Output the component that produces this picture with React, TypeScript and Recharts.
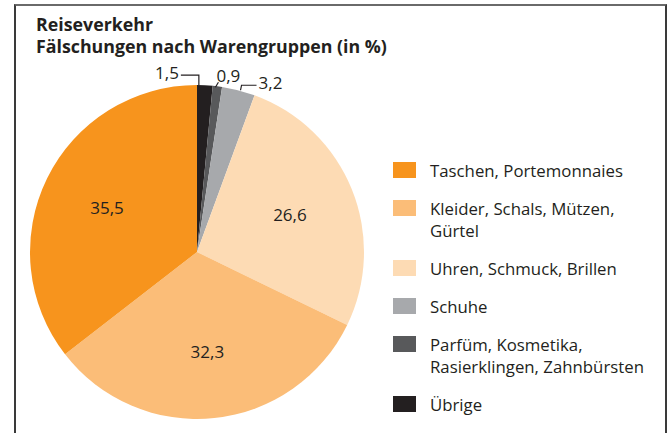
import React from 'react';
import { PieChart, Pie, Cell } from 'recharts';

// Data (clockwise from 12 o'clock)
const categories = [
  'Übrige',
  'Parfüm, Kosmetika, Rasierklingen, Zahnbürsten',
  'Schuhe',
  'Uhren, Schmuck, Brillen',
  'Kleider, Schals, Mützen, Gürtel',
  'Taschen, Portemonnaies',
];
const shares = [1.5, 0.9, 3.2, 26.6, 32.3, 35.5];
const colors = ['#231F20', '#58595B', '#A7A9AC', '#FDDBB4', '#FBBD78', '#F7941D'];
const titleLines = ['Reiseverkehr', 'Fälschungen nach Warengruppen (in %)'];

const data = categories.map((name, i) => ({ name, value: shares[i], color: colors[i] }));

const FONT = '"Open Sans", "Noto Sans", sans-serif';
const TEXT = '#231F20';
const RADIAN = Math.PI / 180;
const fmt = (v: number) => v.toFixed(1).replace('.', ',');

const renderLabel = (props: any) => {
  const { cx, cy, midAngle, outerRadius, index, value } = props;
  const cos = Math.cos(-midAngle * RADIAN);
  const sin = Math.sin(-midAngle * RADIAN);
  if (index > 2) {
    const r = outerRadius * 0.6;
    return (
      <text x={cx + r * cos} y={cy + r * sin} fill={TEXT} fontSize={17} fontFamily={FONT}
        textAnchor="middle" dominantBaseline="central">{fmt(value)}</text>
    );
  }
  const ex = cx + outerRadius * cos;
  const ey = cy + outerRadius * sin;
  let pts: number[][] = [];
  let tx = 0, ty = 0, anchor: 'start' | 'end' = 'start';
  if (index === 0) {
    pts = [[ex - 6, ey], [ex - 6, ey - 10], [ex - 24, ey - 10]];
    tx = ex - 26; ty = ey - 13; anchor = 'end';
  } else if (index === 1) {
    pts = [[ex - 2, ey + 1], [ex + 1, ey - 4]];
    tx = ex - 1; ty = ey - 11; anchor = 'start';
  } else {
    pts = [[ex + 2, ey], [ex + 3, ey - 5], [ex + 18, ey - 5]];
    tx = ex + 20; ty = ey - 8; anchor = 'start';
  }
  return (
    <g>
      <polyline points={pts.map((p) => p.join(',')).join(' ')} fill="none" stroke={TEXT} strokeWidth={1.2} />
      <text x={tx} y={ty} fill={TEXT} fontSize={17} fontFamily={FONT}
        textAnchor={anchor} dominantBaseline="central">{fmt(value)}</text>
    </g>
  );
};

const LegendBox = () => {
  const items = data.slice().reverse();
  return (
    <div style={{ position: 'absolute', left: 393, top: 160, fontFamily: FONT, fontSize: 16.8, color: TEXT, lineHeight: '22px' }}>
      {items.map((d) => (
        <div key={d.name} style={{ display: 'flex', alignItems: 'flex-start', marginBottom: 16 }}>
          <div style={{ width: 23, height: 16, background: d.color, marginTop: 2, flexShrink: 0 }} />
          <div style={{ marginLeft: 14, width: 228 }}>{d.name}</div>
        </div>
      ))}
    </div>
  );
};

export default function App() {
  return (
    <div style={{ position: 'absolute', left: 0, top: 0, width: 667, height: 433, background: '#fff', overflow: 'hidden' }}>
      <div style={{ position: 'absolute', left: 14, top: 4, width: 649, height: 440,
        borderLeft: '2px solid #3a3a3a', borderTop: '2px solid #6a6a6a', borderRight: '2px solid #3a3a3a' }} />
      <div style={{ position: 'absolute', left: 36, top: 13, fontFamily: FONT, fontWeight: 700, fontSize: 17.8,
        color: TEXT, lineHeight: '22px' }}>
        {titleLines.map((t) => <div key={t}>{t}</div>)}
      </div>
      <div style={{ position: 'absolute', left: 0, top: 0 }}>
        <PieChart width={667} height={433} margin={{ top: 0, right: 0, bottom: 0, left: 0 }}>
          <Pie data={data} dataKey="value" nameKey="name" cx={197} cy={252} outerRadius={167}
            startAngle={90} endAngle={-270} stroke="none" isAnimationActive={false}
            label={renderLabel} labelLine={false}>
            {data.map((d) => <Cell key={d.name} fill={d.color} />)}
          </Pie>
        </PieChart>
      </div>
      <LegendBox />
    </div>
  );
}
